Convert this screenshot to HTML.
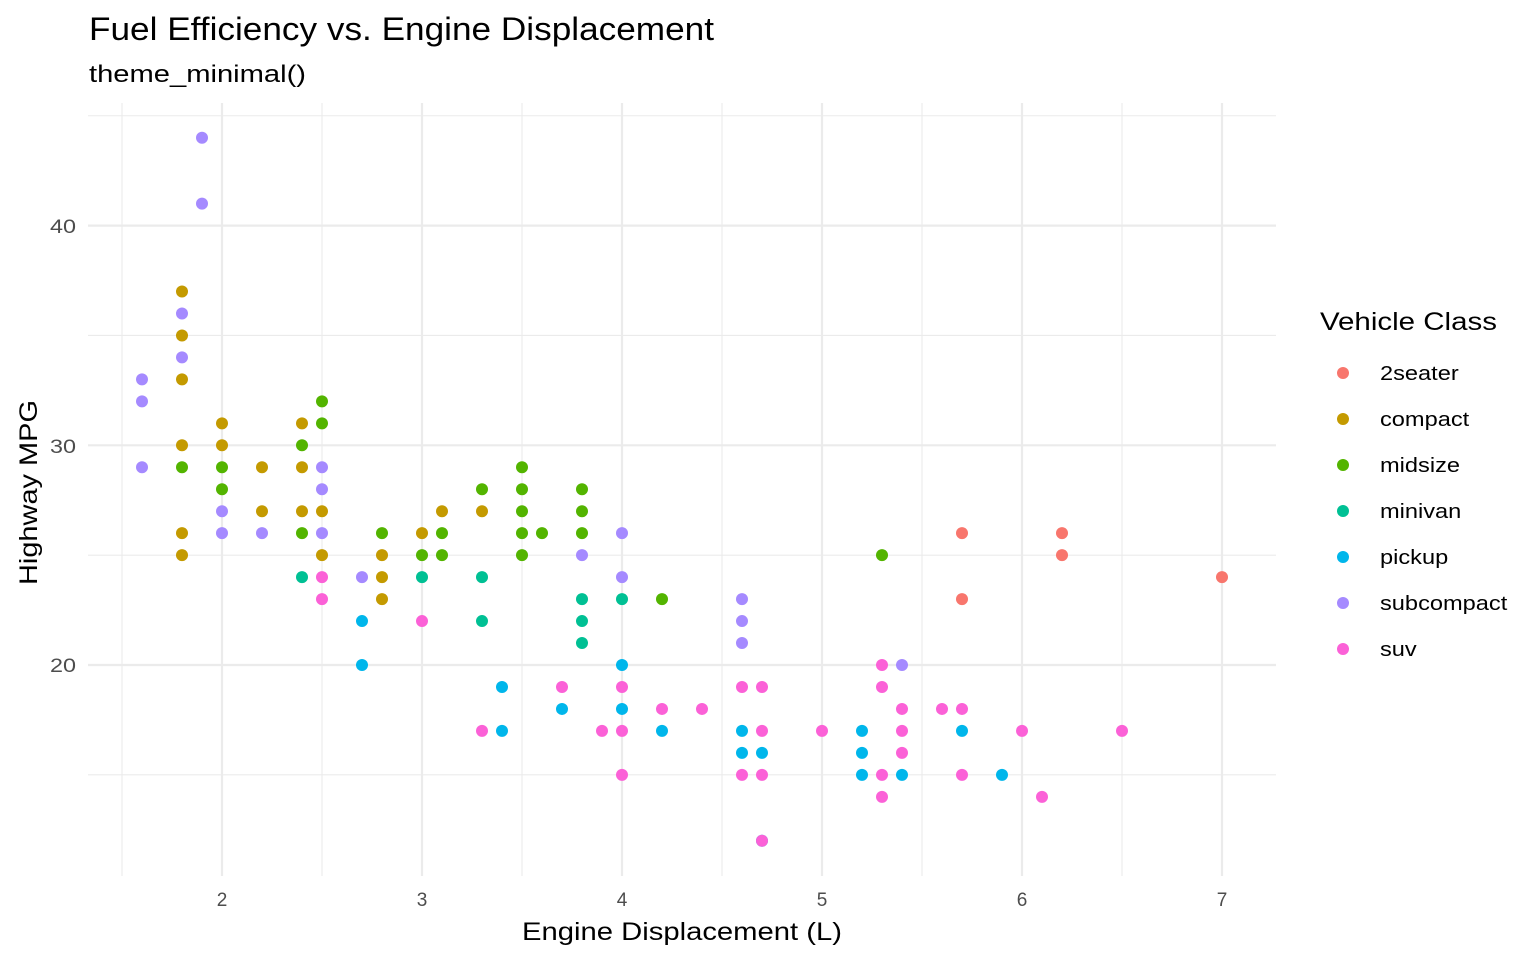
<!DOCTYPE html>
<html><head><meta charset="utf-8"><style>
html,body{margin:0;padding:0;background:#fff;}
svg{display:block;font-family:"Liberation Sans",Arial,sans-serif;}
</style></head><body>
<svg id="s" width="1536" height="960" xmlns="http://www.w3.org/2000/svg">
<rect width="1536" height="960" fill="#fff"/>
<g id="grid"></g>
<g id="pts"></g>
<text x="89" y="40" font-size="32" fill="#000" textLength="625" lengthAdjust="spacingAndGlyphs">Fuel Efficiency vs. Engine Displacement</text>
<text x="89" y="82" font-size="24" fill="#000" textLength="217" lengthAdjust="spacingAndGlyphs">theme_minimal()</text>
<g font-size="19" fill="#4d4d4d" text-anchor="end">
<text x="76" y="233" textLength="26" lengthAdjust="spacingAndGlyphs">40</text><text x="76" y="453" textLength="26" lengthAdjust="spacingAndGlyphs">30</text><text x="76" y="672" textLength="26" lengthAdjust="spacingAndGlyphs">20</text>
</g>
<g font-size="19" fill="#4d4d4d" text-anchor="middle">
<text x="222" y="906">2</text><text x="422" y="906">3</text><text x="622" y="906">4</text><text x="822" y="906">5</text><text x="1022" y="906">6</text><text x="1222" y="906">7</text>
</g>
<text x="522" y="940" font-size="25" fill="#000" textLength="320" lengthAdjust="spacingAndGlyphs">Engine Displacement (L)</text>
<text transform="translate(37,585) rotate(-90)" font-size="25" fill="#000" textLength="185" lengthAdjust="spacingAndGlyphs">Highway MPG</text>
<text x="1320" y="330" font-size="25" fill="#000" textLength="177" lengthAdjust="spacingAndGlyphs">Vehicle Class</text>
<g id="leg" font-size="20" fill="#000"></g>
</svg>
<script>
var NS="http://www.w3.org/2000/svg";
function el(t,a,p){var e=document.createElementNS(NS,t);for(var k in a)e.setAttribute(k,a[k]);p.appendChild(e);return e;}
var X=function(d){return 222+(d-2)*200;}, Y=function(h){return 665-(h-20)*21.97;};
var g=document.getElementById('grid');
[1.5,2.5,3.5,4.5,5.5,6.5].forEach(function(d){el('line',{x1:X(d),x2:X(d),y1:103,y2:876,stroke:'#ebebeb','stroke-width':1.1},g);});
[15,25,35,45].forEach(function(h){el('line',{x1:88,x2:1276,y1:Y(h),y2:Y(h),stroke:'#ebebeb','stroke-width':1.1},g);});
[2,3,4,5,6,7].forEach(function(d){el('line',{x1:X(d),x2:X(d),y1:103,y2:876,stroke:'#ebebeb','stroke-width':2.2},g);});
[20,30,40].forEach(function(h){el('line',{x1:88,x2:1276,y1:Y(h),y2:Y(h),stroke:'#ebebeb','stroke-width':2.2},g);});
var C={a:'#F8766D',c:'#C49A00',m:'#53B400',v:'#00C094',p:'#00B6EB',s:'#A58AFF',u:'#FB61D7'};
var D={
a:[[5.7,26],[5.7,23],[6.2,26],[6.2,25],[7,24]],
c:[[1.8,37],[1.8,35],[1.8,33],[1.8,30],[1.8,26],[1.8,25],[2,31],[2,30],[2.2,29],[2.2,27],[2.4,31],[2.4,29],[2.4,27],[2.5,27],[2.5,25],[2.8,25],[2.8,24],[2.8,23],[3,26],[3.1,27],[3.3,27]],
m:[[1.8,29],[2,29],[2,28],[2.4,30],[2.4,26],[2.5,32],[2.5,31],[2.8,26],[3,25],[3.1,26],[3.1,25],[3.3,28],[3.5,29],[3.5,28],[3.5,27],[3.5,26],[3.5,25],[3.6,26],[3.8,28],[3.8,27],[3.8,26],[4.2,23],[5.3,25]],
v:[[2.4,24],[3,24],[3.3,24],[3.3,22],[3.8,23],[3.8,22],[3.8,21],[4,23]],
p:[[2.7,22],[2.7,20],[3.4,19],[3.4,17],[3.7,18],[4,20],[4,18],[4.2,17],[4.6,17],[4.6,16],[4.7,16],[4.7,12],[5.2,17],[5.2,16],[5.2,15],[5.4,15],[5.7,17],[5.9,15]],
s:[[1.6,33],[1.6,32],[1.6,29],[1.8,36],[1.8,34],[1.9,44],[1.9,41],[2,27],[2,26],[2.2,26],[2.5,29],[2.5,28],[2.5,26],[2.7,24],[3.8,25],[4,26],[4,24],[4.6,23],[4.6,22],[4.6,21],[5.4,20]],
u:[[2.5,24],[2.5,23],[3,22],[3.3,17],[3.7,19],[3.9,17],[4,19],[4,17],[4,15],[4.2,18],[4.4,18],[4.6,19],[4.6,15],[4.7,19],[4.7,17],[4.7,15],[4.7,12],[5,17],[5.3,20],[5.3,19],[5.3,15],[5.3,14],[5.4,18],[5.4,17],[5.4,16],[5.6,18],[5.7,18],[5.7,15],[6,17],[6.1,14],[6.5,17]]};
var pg=document.getElementById('pts');
['a','c','m','v','p','s','u'].forEach(function(k){D[k].forEach(function(q){el('circle',{cx:X(q[0]),cy:Y(q[1]),r:6,fill:C[k]},pg);});});
var lg=document.getElementById('leg');
var names=[['a','2seater'],['c','compact'],['m','midsize'],['v','minivan'],['p','pickup'],['s','subcompact'],['u','suv']];
names.forEach(function(n,i){var y=373+i*46;el('circle',{cx:1343,cy:y,r:6,fill:C[n[0]]},lg);var t=el('text',{x:1380,y:y+7},lg);t.textContent=n[1];
 try{var w=t.getComputedTextLength();t.setAttribute('textLength',(w*1.18).toFixed(1));t.setAttribute('lengthAdjust','spacingAndGlyphs');}catch(e){}});
</script>
</body></html>
